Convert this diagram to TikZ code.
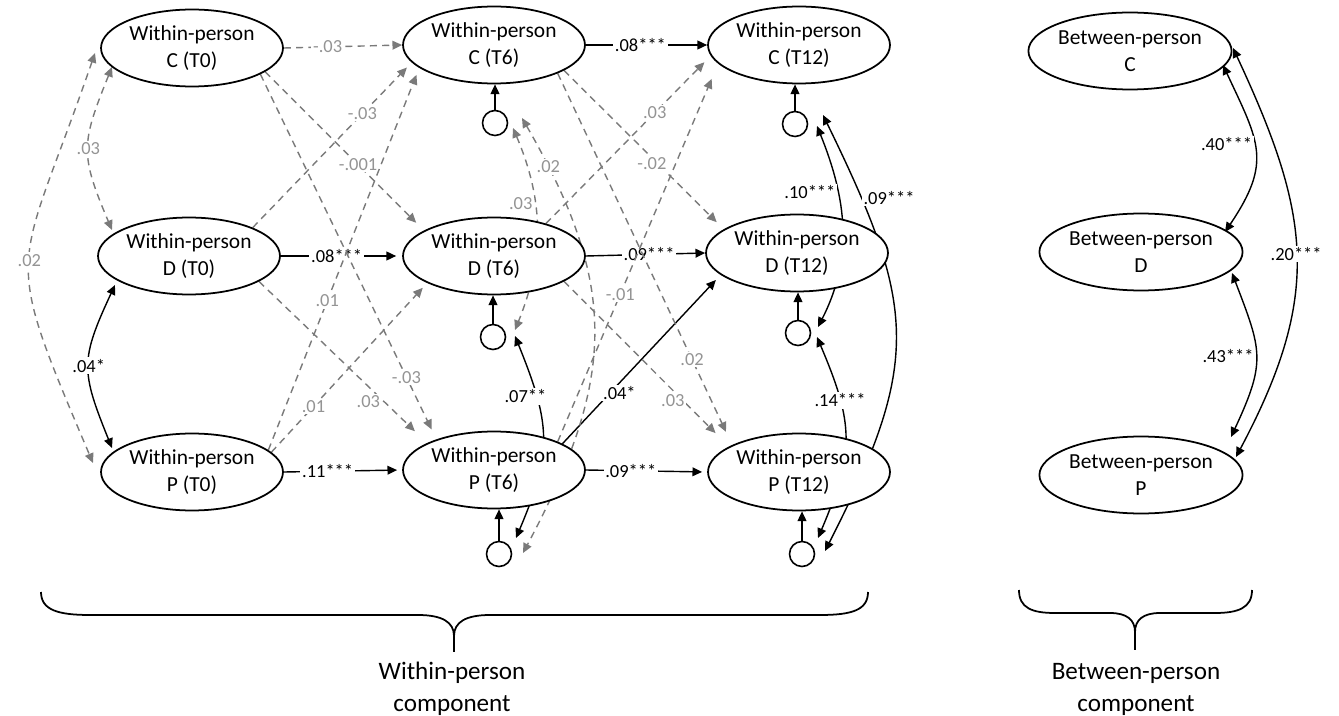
\documentclass[tikz,border=0pt]{standalone}
\usepackage{fontspec}
\setmainfont{Carlito}
\usetikzlibrary{arrows.meta,shapes.geometric,backgrounds}

\begin{document}
\begin{tikzpicture}[
        x=0.02cm, y=-0.02cm,
        >={Triangle[length=5.5pt,width=5pt]},
        latent/.style={ellipse, draw, line width=1pt, fill=white, inner sep=0pt,
            minimum width=3.64cm, minimum height=1.54cm, align=center,
            font=\fontsize{12.2}{15.4}\selectfont},
        resid/.style={circle, draw, line width=0.9pt, fill=white, minimum size=0.5cm, inner sep=0pt},
        sigpath/.style={draw, line width=0.8pt, ->},
        nspath/.style={draw=black!52, line width=0.8pt, dash pattern=on 4pt off 3pt, ->},
        lbl/.style={font=\fontsize{10.5}{12}\selectfont, fill=white, inner sep=1pt},
        glbl/.style={lbl, text=black!42},
        bracket/.style={draw, line width=1pt},
        comp/.style={align=center, font=\fontsize{14.3}{18.2}\selectfont}
    ]
    \useasboundingbox (0,0) rectangle (1339,716);

    % within-person variables
    \node[latent] (wC0) at (192,48) {Within-person\\C (T0)};
    \node[latent] (wD0) at (189,256) {Within-person\\D (T0)};
    \node[latent] (wP0) at (192,472) {Within-person\\P (T0)};
    \node[latent] (wC6) at (494,45) {Within-person\\C (T6)};
    \node[latent] (wD6) at (494,256) {Within-person\\D (T6)};
    \node[latent] (wP6) at (494,470) {Within-person\\P (T6)};
    \node[latent] (wC12) at (799,45) {Within-person\\C (T12)};
    \node[latent] (wD12) at (797,253) {Within-person\\D (T12)};
    \node[latent] (wP12) at (799,472) {Within-person\\P (T12)};

    % between-person variables
    \node[latent] (bC) at (1130,51) {Between-person\\C};
    \node[latent] (bD) at (1141,252) {Between-person\\D};
    \node[latent] (bP) at (1141,475) {Between-person\\P};

    % residuals
    \node[resid] (rC6) at (495,123) {};
    \node[resid] (rD6) at (493,337) {};
    \node[resid] (rP6) at (499,554) {};
    \node[resid] (rC12) at (795,124) {};
    \node[resid] (rD12) at (798,333) {};
    \node[resid] (rP12) at (802,554) {};

    \draw[sigpath] (rC6) -- (rC6 |- wC6.south);
    \draw[sigpath] (rD6) -- (rD6 |- wD6.south);
    \draw[sigpath] (rP6) -- (rP6 |- wP6.south);
    \draw[sigpath] (rC12) -- (rC12 |- wC12.south);
    \draw[sigpath] (rD12) -- (rD12 |- wD12.south);
    \draw[sigpath] (rP12) -- (rP12 |- wP12.south);

    \begin{scope}[on background layer]
        % T0 -> T6
        \draw[sigpath, shorten >=0.12cm] (wD0.east) -- node[lbl, pos=0.46] {.08***} (wD6.west);
        \draw[sigpath, shorten >=0.1cm] (wP0.east) -- node[lbl, pos=0.37] {.11***} (wP6.west);
        \draw[nspath] (wC0.east) -- node[glbl, pos=0.37] {-.03} (wC6.west);
        \draw[nspath, shorten >=0.22cm] (wC0.-18) -- node[glbl, pos=0.585] {-.001} (wD6.160);
        \draw[nspath, shorten >=0.22cm] (wC0.-21) -- node[glbl, pos=0.83] {-.03} (wP6.152);
        \draw[nspath, shorten >=0.14cm] (wD0.24) -- node[glbl, pos=0.69] {-.03} (wC6.192);
        \draw[nspath, shorten >=0.34cm] (wD0.-20) -- node[glbl, pos=0.65, yshift=-0.3cm] {.03} (wP6.158);
        \draw[nspath, shorten >=0.15cm] (wP0.16) -- node[glbl, pos=0.39] {.01} (wC6.197);
        \draw[nspath, shorten >=0.13cm] (wP0.14) -- node[glbl, pos=0.27] {.01} (wD6.202);

        % T6 -> T12
        \draw[sigpath] (wC6.east) -- node[lbl, pos=0.45] {.08***} (wC12.west);
        \draw[sigpath] (wD6.east) -- node[lbl, pos=0.53] {.09***} (wD12.west);
        \draw[sigpath, shorten >=0.1cm] (wP6.east) -- node[lbl, pos=0.37] {.09***} (wP12.west);
        \draw[sigpath, shorten >=0.14cm] (wP6.21) -- node[lbl, pos=0.36, yshift=-0.2cm] {.04*} (wD12.196);
        \draw[nspath, shorten >=0.2cm] (wC6.-20) -- node[glbl, pos=0.55, yshift=-0.12cm] {-.02} (wD12.162);
        \draw[nspath, shorten >=0.29cm] (wC6.-24) -- node[glbl, pos=0.77] {.02} (wP12.158);
        \draw[nspath, shorten >=0.18cm] (wD6.32) -- node[glbl, pos=0.66] {.03} (wC12.187);
        \draw[nspath, shorten >=0.33cm] (wP6.24) -- node[glbl, pos=0.39] {-.01} (wC12.193);
        \draw[nspath, shorten >=0.38cm] (wD6.-20) -- node[glbl, pos=0.66, yshift=-0.2cm] {.03} (wP12.160);

        % covariances at T0
        \draw[nspath, <->] ([shift={(-80,19)}]wC0.center) to[out=248, in=113, looseness=1.3] node[glbl] {.03} ([shift={(-77,-26)}]wD0.center);
        \draw[sigpath, <->] ([shift={(-74,29)}]wD0.center) to[out=245, in=112, looseness=1.3] node[lbl] {.04*} ([shift={(-80,-24)}]wP0.center);
        \draw[nspath, <->] ([shift={(-97,5)}]wC0.center) to[out=251, in=113, looseness=1.5] node[glbl] {.02} ([shift={(-99,-9)}]wP0.center);

        % residual covariances at T6
        \draw[nspath, <->] ([shift={(18,5)}]rC6.center) to[out=-67, in=68] node[glbl, pos=0.37, left] {.03} ([shift={(22,-7)}]rD6.center);
        \draw[nspath, <->] ([shift={(27,-5)}]rC6.center) to[out=-60, in=62, looseness=1.15] node[glbl, pos=0.1] {.02} ([shift={(24,-1)}]rP6.center);
        \draw[sigpath, <->] ([shift={(22,-1)}]rD6.center) to[out=-68, in=67, looseness=1.2] node[lbl, pos=0.27, xshift=-0.22cm] {.07**} ([shift={(17,-16)}]rP6.center);

        % residual covariances at T12
        \draw[sigpath, <->] ([shift={(22,2)}]rC12.center) to[out=-68, in=63] node[lbl, pos=0.32, left] {.10***} ([shift={(20,-6)}]rD12.center);
        \draw[sigpath, <->] ([shift={(28,-9)}]rC12.center) to[out=-64, in=63, looseness=1.25] node[lbl, pos=0.16, right] {.09***} ([shift={(23,-3)}]rP12.center);
        \draw[sigpath, <->] ([shift={(19,4)}]rD12.center) to[out=-67, in=67, looseness=1.2] node[lbl, pos=0.29] {.14***} ([shift={(16,-16)}]rP12.center);

        % between-person covariances
        \draw[sigpath, <->] ([shift={(93,14)}]bC.center) to[out=-65, in=56, looseness=1.3] node[lbl, pos=0.45, left] {.40***} ([shift={(84,-20)}]bD.center);
        \draw[sigpath, <->] ([shift={(91,21)}]bD.center) to[out=-69, in=65, looseness=1.3] node[lbl, pos=0.5, left] {.43***} ([shift={(90,-38)}]bP.center);
        \draw[sigpath, <->] ([shift={(103,-3)}]bC.center) to[out=-65, in=62, looseness=1.15] node[lbl] {.20***} ([shift={(95,-18)}]bP.center);
    \end{scope}

    % braces
    \draw[bracket] (41,592) .. controls (41,610) and (58,615) .. (90,615) -- (418,615)
        .. controls (442,615) and (454,622) .. (454,636)
        .. controls (454,622) and (466,615) .. (490,615) -- (820,615)
        .. controls (852,615) and (868,610) .. (868,592);
    \draw[bracket] (454,636) -- (454,652);
    \draw[bracket] (1019,590) .. controls (1019,608) and (1032,613) .. (1055,613) -- (1110,613)
        .. controls (1127,613) and (1135,620) .. (1135,632)
        .. controls (1135,620) and (1143,613) .. (1160,613) -- (1215,613)
        .. controls (1238,613) and (1252,608) .. (1252,590);
    \draw[bracket] (1135,632) -- (1135,650);

    \node[comp] (wlab) at (452,689) {Within-person\\component};
    \node[comp] (blab) at (1136,689) {Between-person\\component};
\end{tikzpicture}
\end{document}
